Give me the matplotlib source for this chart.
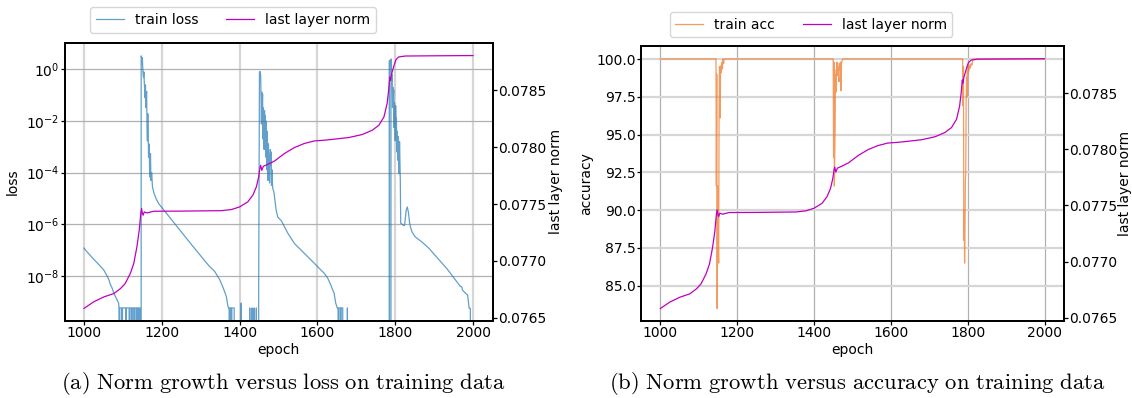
#!/usr/bin/env python3
"""
Last-layer norm growth plotted next to training loss (a) and training accuracy (b).
"""

import matplotlib

matplotlib.use("Agg")
import matplotlib.pyplot as plt
from matplotlib.ticker import FormatStrFormatter, NullLocator

# training loss per epoch (0 = loss underflowed to exactly zero)
loss_epochs = [
    1000, 1010, 1020, 1030, 1040, 1051, 1058, 1063, 1068, 1072, 1077, 1081, 1085, 1089,
    1090, 1091, 1092, 1097, 1098, 1099, 1107, 1108, 1109, 1116, 1117, 1118, 1122, 1123,
    1124, 1128, 1129, 1130, 1134, 1135, 1136, 1139, 1140, 1141, 1144, 1145, 1146,
    1147, 1148, 1149, 1150, 1151, 1152, 1153, 1154, 1155, 1156, 1157, 1158, 1159, 1160,
    1161, 1162, 1163, 1164, 1165, 1166, 1167, 1168, 1169, 1170, 1171, 1172, 1174, 1176,
    1180, 1185, 1192, 1200,
    1220, 1240, 1260, 1280, 1300, 1320, 1336, 1349, 1358, 1366, 1370,
    1372, 1373, 1374, 1375, 1378, 1379, 1380, 1386, 1387, 1403, 1404, 1405, 1425, 1426,
    1427, 1431, 1432, 1433, 1436, 1437, 1438, 1442, 1443, 1444, 1448,
    1449, 1451, 1452, 1453, 1454, 1455, 1456, 1457, 1458, 1459, 1460, 1461, 1462, 1463,
    1464, 1465, 1466, 1467, 1468, 1469, 1470, 1471, 1472, 1473, 1474, 1475, 1476, 1477,
    1478, 1479, 1480, 1481, 1482, 1483, 1485, 1488,
    1494, 1498, 1507, 1524, 1541, 1566, 1592, 1609, 1617, 1626, 1634, 1643, 1647,
    1651, 1653, 1654, 1655, 1659, 1660, 1661, 1665, 1666, 1676, 1677, 1678, 1784,
    1785, 1786, 1788, 1789, 1790, 1791, 1792, 1793, 1794, 1795, 1796, 1797, 1798, 1799,
    1800, 1801, 1802, 1803, 1804, 1805, 1806, 1807, 1808, 1809, 1810, 1811, 1812, 1813,
    1814, 1818, 1822, 1824, 1826, 1828, 1831, 1834, 1837, 1840, 1843, 1851, 1868, 1886,
    1911, 1933, 1952, 1967, 1971, 1973, 1986, 1990, 1993, 1994, 2000,
]
train_loss = [
    1.2e-7, 7.9e-8, 5.4e-8, 3.7e-8, 2.6e-8, 1.7e-8, 1.1e-8, 7.9e-9, 4.6e-9, 3.5e-9, 2.1e-9, 1.6e-9, 1.2e-9, 8.9e-10,
    5.8e-10, 0, 5.8e-10, 5.8e-10, 0, 5.8e-10, 5.8e-10, 0, 5.8e-10, 5.8e-10, 0, 5.8e-10, 5.8e-10, 0,
    5.8e-10, 5.8e-10, 0, 5.8e-10, 5.8e-10, 0, 5.8e-10, 5.8e-10, 0, 5.8e-10, 5.8e-10, 0, 0,
    3.3, 2.8, 1.6, 2.8, 1.15, 0.63, 0.48, 0.79, 0.3, 0.17, 0.079, 0.25, 0.033, 0.063,
    0.14, 6.3e-3, 1.7e-3, 0.019, 3.2e-3, 4.0e-4, 1.3e-3, 5.4e-4, 6.8e-5, 3.2e-4, 5.4e-4, 5.0e-5, 1.0e-4, 2.8e-5,
    1.6e-5, 1.0e-5, 6.3e-6, 4.5e-6,
    1.9e-6, 7.9e-7, 3.3e-7, 1.4e-7, 6.0e-8, 2.6e-8, 1.5e-8, 7.1e-9, 3.4e-9, 1.6e-9, 6.6e-10,
    5.8e-10, 5.8e-10, 0, 5.8e-10, 5.8e-10, 0, 5.8e-10, 5.8e-10, 0, 0, 8.9e-10, 0, 0, 5.8e-10,
    0, 0, 5.8e-10, 0, 0, 5.8e-10, 0, 0, 5.8e-10, 0, 0,
    4.0e-9, 0.74, 0.83, 0.71, 0.63, 0.1, 7.6e-3, 0.13, 0.032, 0.11, 2.0e-3, 0.032, 0.013, 7.9e-4,
    0.025, 4.0e-3, 0.016, 4.0e-4, 0.01, 1.6e-3, 1.3e-4, 4.0e-3, 6.3e-4, 5.0e-5, 1.3e-3, 2.5e-4, 5.0e-4, 4.0e-5,
    3.2e-4, 7.9e-4, 2.0e-4, 6.3e-4, 3.2e-5, 1.3e-4, 2.5e-5, 1.8e-5,
    3.5e-6, 1.9e-6, 1.4e-6, 4.5e-7, 1.8e-7, 7.6e-8, 3.1e-8, 1.7e-8, 1.3e-8, 8.5e-9, 4.6e-9, 2.1e-9, 8.9e-10,
    5.8e-10, 5.8e-10, 0, 5.8e-10, 5.8e-10, 0, 5.8e-10, 5.8e-10, 0, 0, 5.8e-10, 0, 0,
    2.2, 0, 0, 2.5, 1.35, 0.35, 0.63, 0.033, 0.2, 0.079, 0.16, 5.6e-3, 0.05, 0.01,
    1.7e-3, 0.039, 5.0e-3, 0.013, 6.3e-4, 4.0e-3, 1.0e-3, 3.0e-4, 2.5e-3, 5.0e-4, 9.1e-5, 1.6e-3, 2.5e-4, 5.0e-5,
    1.1e-6, 1.0e-6, 8.9e-7, 9.3e-7, 1.8e-6, 3.5e-6, 4.7e-6, 2.8e-6, 1.1e-6, 7.1e-7, 5.1e-7, 3.3e-7, 2.1e-7, 1.2e-7,
    4.5e-8, 1.9e-8, 7.9e-9, 4.0e-9, 3.8e-9, 2.8e-9, 1.8e-9, 5.6e-10, 5.6e-10, 0, 0,
]

# training accuracy (%) per epoch
acc_epochs = [
    1000, 1145, 1146, 1147, 1148, 1149, 1150, 1151, 1152, 1153, 1154, 1155, 1156, 1157,
    1158, 1159, 1160, 1161, 1162, 1163, 1165, 1166,
    1450, 1451, 1452, 1453, 1454, 1455, 1456, 1457, 1458, 1459, 1460, 1461, 1462, 1463,
    1465, 1466, 1467, 1469, 1470, 1471, 1473, 1475,
    1787, 1788, 1789, 1790, 1791, 1792, 1793, 1794, 1795, 1796, 1797, 1798, 1799, 1800,
    1801, 1803, 1805, 1807, 1809, 1811, 1813, 1815, 2000,
]
train_acc = [
    100, 100, 91.6, 99.0, 83.5, 91.6, 90.5, 88.0, 86.5, 96.0, 99.5, 99.0, 96.1, 99.5,
    99.1, 99.6, 99.3, 99.8, 99.4, 100, 99.7, 100,
    100, 93.5, 99.8, 91.6, 93.5, 95.3, 99.0, 97.8, 99.3, 99.0, 99.8, 98.9, 99.5, 99.2,
    98.5, 99.7, 99.3, 99.8, 97.9, 99.6, 99.9, 100,
    100, 96.9, 99.5, 88.0, 90.0, 86.5, 88.5, 92.0, 92.4, 97.1, 98.8, 97.5, 99.2, 98.9,
    99.5, 99.2, 99.6, 99.4, 99.7, 99.6, 99.9, 100, 100,
]

# Frobenius norm of the last layer weights
norm_epochs = [
    1000, 1025, 1051, 1077, 1094, 1106, 1119, 1128, 1136, 1142, 1146, 1148, 1150, 1152,
    1155, 1162, 1179, 1250, 1300, 1353, 1379, 1400, 1421, 1434, 1443, 1449, 1452, 1454,
    1457, 1461, 1473, 1490, 1515, 1541, 1566, 1592, 1617, 1643, 1681, 1715, 1741, 1758,
    1771, 1779, 1783, 1786, 1788, 1790, 1792, 1797, 1802, 1809, 1826, 1900, 2000,
]
layer_norm = [
    0.076583, 0.076641, 0.076684, 0.076714, 0.076758, 0.076802, 0.076890, 0.076978,
    0.077124, 0.077270, 0.077417, 0.077461, 0.077420, 0.077402, 0.077431, 0.077422,
    0.077437, 0.077438, 0.077440, 0.077442, 0.077452, 0.077475, 0.077519, 0.077578,
    0.077651, 0.077739, 0.077812, 0.077841, 0.077797, 0.077832, 0.077850, 0.077879,
    0.077944, 0.077997, 0.078032, 0.078055, 0.078061, 0.078070, 0.078085, 0.078111,
    0.078149, 0.078193, 0.078266, 0.078383, 0.078500, 0.078617, 0.078588, 0.078640,
    0.078661, 0.078720, 0.078770, 0.078793, 0.078801, 0.078803, 0.078805,
]

epoch_ticks = [1000, 1200, 1400, 1600, 1800, 2000]
loss_ticks = [1e-8, 1e-6, 1e-4, 1e-2, 1e0]
acc_ticks = [85.0, 87.5, 90.0, 92.5, 95.0, 97.5, 100.0]
norm_ticks = [0.0765, 0.0770, 0.0775, 0.0780, 0.0785]

captions = [
    r"$\mathrm{(a)\ Norm\ growth\ versus\ loss\ on\ training\ data}$",
    r"$\mathrm{(b)\ Norm\ growth\ versus\ accuracy\ on\ training\ data}$",
]

GRID_DARK = "#b0b0b0"
GRID_LIGHT = "#d6d6d6"
FONT_SIZE = 10


def style_axes(ax):
    for spine in ax.spines.values():
        spine.set_linewidth(1.3)
    ax.tick_params(labelsize=FONT_SIZE, width=0.9, length=3, pad=0.8)


def add_norm_axis(ax, label_x):
    twin = ax.twinx()
    (line,) = twin.plot(norm_epochs, layer_norm, color="m", linewidth=0.9, label="last layer norm")
    twin.set_ylim(0.076475, 0.078918)
    twin.set_yticks(norm_ticks)
    twin.yaxis.set_major_formatter(FormatStrFormatter("%.4f"))
    twin.set_ylabel("last layer norm", fontsize=FONT_SIZE)
    twin.yaxis.set_label_coords(label_x, 0.5)
    style_axes(twin)
    return line


def loss_panel(fig):
    ax = fig.add_axes([0.057, 0.1942, 0.3781, 0.6985])
    (line,) = ax.plot(loss_epochs, train_loss, color="tab:blue", alpha=0.7, linewidth=0.9,
                      label="train loss")
    ax.set_yscale("log")
    ax.set_ylim(1.86e-10, 10.7)
    ax.set_yticks(loss_ticks)
    ax.yaxis.set_minor_locator(NullLocator())
    ax.set_xlim(950, 2050)
    ax.set_xticks(epoch_ticks)
    ax.set_axisbelow(True)
    ax.xaxis.grid(True, color=GRID_LIGHT, linewidth=1.6)
    ax.yaxis.grid(True, color=GRID_DARK, linewidth=0.9)
    ax.set_xlabel("epoch", fontsize=FONT_SIZE, labelpad=2)
    ax.set_ylabel("loss", fontsize=FONT_SIZE)
    style_axes(ax)
    norm_line = add_norm_axis(ax, 1.1330)
    fig.legend(handles=[line, norm_line], loc="center", bbox_to_anchor=(0.2058, 0.9497),
               ncol=2, fontsize=FONT_SIZE, columnspacing=2.0)


def accuracy_panel(fig):
    ax = fig.add_axes([0.5663, 0.1942, 0.3734, 0.6902])
    (line,) = ax.plot(acc_epochs, train_acc, color="#f07a2a", alpha=0.75, linewidth=0.9,
                      label="train acc")
    ax.set_ylim(82.69, 100.86)
    ax.set_yticks(acc_ticks)
    ax.yaxis.set_major_formatter(FormatStrFormatter("%.1f"))
    ax.set_xlim(950, 2050)
    ax.set_xticks(epoch_ticks)
    ax.set_axisbelow(True)
    ax.xaxis.grid(True, color=GRID_DARK, linewidth=0.9)
    ax.yaxis.grid(True, color=GRID_LIGHT, linewidth=1.6)
    ax.set_xlabel("epoch", fontsize=FONT_SIZE, labelpad=2)
    ax.set_ylabel("accuracy", fontsize=FONT_SIZE)
    ax.yaxis.set_label_coords(-0.1124, 0.5)
    style_axes(ax)
    norm_line = add_norm_axis(ax, 1.1295)
    fig.legend(handles=[line, norm_line], loc="center", bbox_to_anchor=(0.7165, 0.9384),
               ncol=2, fontsize=FONT_SIZE, columnspacing=2.0)


def main() -> int:
    fig = plt.figure(figsize=(11.32, 3.98), dpi=100)
    loss_panel(fig)
    accuracy_panel(fig)
    for x, text in zip([0.25, 0.757], captions):
        fig.text(x, 0.036, text, math_fontfamily="cm", fontsize=16.3, ha="center", va="center")
    fig.savefig("out.png", dpi=100)
    plt.close(fig)
    return 0


if __name__ == "__main__":
    raise SystemExit(main())
